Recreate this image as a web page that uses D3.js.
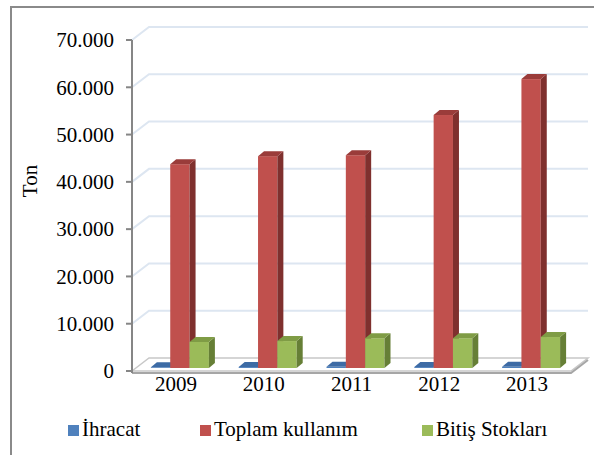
<!DOCTYPE html>
<html>
<head>
<meta charset="utf-8">
<script src="https://cdn.jsdelivr.net/npm/d3@7"></script>
<style>
  body { margin: 0; background: #fff; }
  text { font-family: "Liberation Serif", "Times New Roman", serif; fill: #000; }
</style>
</head>
<body>
<div id="chart"></div>
<script>
// values (ton)
var years = ["2009", "2010", "2011", "2012", "2013"];
var seriesNames = ["İhracat", "Toplam kullanım", "Bitiş Stokları"];
var ihracat = [150, 200, 250, 200, 250];
var toplam = [43100, 44800, 45000, 53500, 61100];
var bitis = [5500, 5700, 6300, 6300, 6550];
var yTicks = [0, 10000, 20000, 30000, 40000, 50000, 60000, 70000];

var width = 594, height = 455;
var colors = [
  {front: "#4f81bd", top: "#3d6ba5", side: "#2f5283"},
  {front: "#c0504d", top: "#9a3c3a", side: "#7f302e"},
  {front: "#9bbb59", top: "#7f9c45", side: "#667f36"}
];

var svg = d3.select("#chart").append("svg")
  .attr("width", width)
  .attr("height", height);

// outer frame
svg.append("rect")
  .attr("x", 11).attr("y", 7)
  .attr("width", 600).attr("height", 460)
  .attr("fill", "none")
  .attr("stroke", "#8a8a8a")
  .attr("stroke-width", 2);

var left = 132, right = 571, depth = [17, -13]; // wall depth offset
var y = d3.scaleLinear().domain([0, 70000]).range([371, 40]);
var x0 = d3.scaleBand().domain(years).range([left, right]);
var groupW = 58;
var x1 = d3.scaleBand().domain(d3.range(3)).range([0, groupW]);

var fmt = d3.formatLocale({decimal: ",", thousands: ".", grouping: [3], currency: ["", ""]}).format(",");

// gridlines: side wall diagonal + back wall
var grid = svg.append("g");
yTicks.slice(1).forEach(function (t) {
  grid.append("path")
    .attr("d", "M" + left + "," + y(t) + "L" + (left + depth[0]) + "," + (y(t) + depth[1]) +
      "L" + (right + depth[0]) + "," + (y(t) + depth[1]))
    .attr("fill", "none")
    .attr("stroke", "#dde6f1")
    .attr("stroke-width", 2);
});

// floor
svg.append("path")
  .attr("d", "M" + left + "," + y(0) + "L" + (left + depth[0]) + "," + (y(0) + depth[1]) +
    "L" + (right + depth[0]) + "," + (y(0) + depth[1]) + "L" + right + "," + y(0) + "Z")
  .attr("fill", "#fff")
  .attr("stroke", "#c8c8c8")
  .attr("stroke-width", 1.5);
svg.append("path")
  .attr("d", "M" + left + "," + (y(0) + 2) + "L" + right + "," + (y(0) + 2) + "L" + (right + depth[0]) + "," + (y(0) + depth[1] + 2))
  .attr("fill", "none")
  .attr("stroke", "#a6a6a6")
  .attr("stroke-width", 2);

// y axis
var yAxis = svg.append("g");
yAxis.append("line")
  .attr("x1", left).attr("x2", left)
  .attr("y1", y(70000)).attr("y2", y(0) + 2)
  .attr("stroke", "#868686").attr("stroke-width", 2);
yAxis.selectAll(".tick")
  .data(yTicks)
  .enter().append("line")
  .attr("x1", left - 6).attr("x2", left)
  .attr("y1", function (d) { return y(d); })
  .attr("y2", function (d) { return y(d); })
  .attr("stroke", "#868686").attr("stroke-width", 2);
yAxis.selectAll("text")
  .data(yTicks)
  .enter().append("text")
  .attr("x", 114)
  .attr("y", function (d) { return y(d); })
  .attr("dy", "0.35em")
  .attr("text-anchor", "end")
  .style("font-size", "21px")
  .text(function (d) { return fmt(d); });

svg.append("text")
  .attr("transform", "translate(37,181) rotate(-90)")
  .attr("text-anchor", "middle")
  .style("font-size", "21px")
  .text("Ton");

// x labels
svg.selectAll(".xlab")
  .data(years)
  .enter().append("text")
  .attr("class", "xlab")
  .attr("x", function (d) { return x0(d) + x0.bandwidth() / 2; })
  .attr("y", 391)
  .attr("text-anchor", "middle")
  .style("font-size", "21px")
  .text(function (d) { return d; });

// bars
var barOff = [4, -3], barDepth = [6, -5];
var data = [];
years.forEach(function (yr, i) {
  [ihracat, toplam, bitis].forEach(function (s, k) {
    data.push({year: yr, k: k, value: s[i]});
  });
});

var bars = svg.append("g").selectAll("g")
  .data(data)
  .enter().append("g");

bars.each(function (d) {
  var g = d3.select(this);
  var xa = x0(d.year) + (x0.bandwidth() - groupW) / 2 + x1(d.k) + barOff[0];
  var xb = xa + x1.bandwidth();
  var yt = y(d.value) + barOff[1], yb = y(0) + barOff[1];
  var dx = barDepth[0], dy = barDepth[1];
  g.append("rect")
    .attr("x", xa).attr("y", yt)
    .attr("width", xb - xa).attr("height", Math.max(0, yb - yt))
    .attr("fill", colors[d.k].front);
  g.append("path")
    .attr("d", "M" + xb + "," + yt + "L" + (xb + dx) + "," + (yt + dy) + "L" + (xb + dx) + "," + (yb + dy) + "L" + xb + "," + yb + "Z")
    .attr("fill", colors[d.k].side);
  g.append("path")
    .attr("d", "M" + xa + "," + yt + "L" + (xa + dx) + "," + (yt + dy) + "L" + (xb + dx) + "," + (yt + dy) + "L" + xb + "," + yt + "Z")
    .attr("fill", colors[d.k].top);
});

// legend
var legendX = [68, 200, 422];
var legend = svg.selectAll(".leg")
  .data(seriesNames)
  .enter().append("g")
  .attr("class", "leg")
  .attr("transform", function (d, i) { return "translate(" + legendX[i] + ",425)"; });
legend.append("rect")
  .attr("width", 11).attr("height", 11)
  .attr("fill", function (d, i) { return colors[i].front; });
legend.append("text")
  .attr("x", 14).attr("y", 11)
  .style("font-size", "21px")
  .text(function (d) { return d; });
</script>
</body>
</html>
